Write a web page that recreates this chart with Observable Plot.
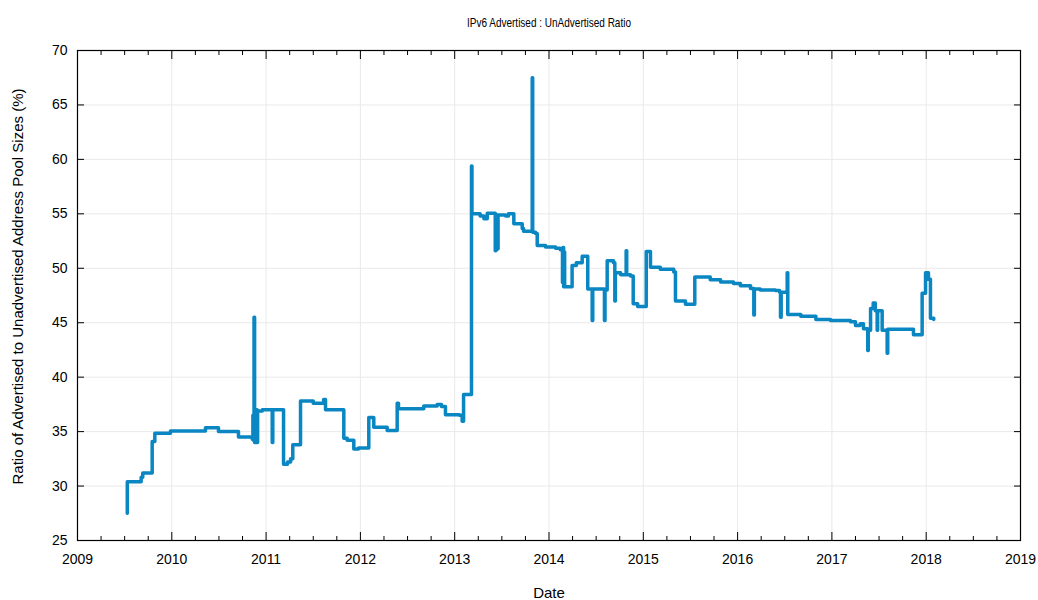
<!DOCTYPE html>
<html><head><meta charset="utf-8">
<script src="https://cdn.jsdelivr.net/npm/d3@7"></script>
<script src="https://cdn.jsdelivr.net/npm/@observablehq/plot@0.6"></script>
<style>body{margin:0;background:#fff;}</style>
</head><body><div id="chart"></div>
<script>
// decimal years (step-after: value holds from this date on)
const dates = [
  2009.527, 2009.528, 2009.675, 2009.692, 2009.792, 2009.820, 2009.986, 2010.357, 2010.495, 2010.707,
  2010.853, 2010.860, 2010.865, 2010.872, 2010.878, 2010.884, 2010.890, 2010.898, 2010.905, 2010.910,
  2010.960, 2011.065, 2011.071, 2011.185, 2011.227, 2011.260, 2011.283, 2011.365, 2011.500, 2011.610,
  2011.630, 2011.824, 2011.860, 2011.930, 2011.980, 2012.089, 2012.142, 2012.284, 2012.390, 2012.404,
  2012.672, 2012.814, 2012.860, 2012.902, 2013.050, 2013.079, 2013.094, 2013.178, 2013.183, 2013.270,
  2013.310, 2013.345, 2013.430, 2013.436, 2013.442, 2013.448, 2013.454, 2013.460, 2013.540, 2013.570,
  2013.627, 2013.716, 2013.730, 2013.822, 2013.827, 2013.857, 2013.875, 2013.963, 2014.070, 2014.120,
  2014.143, 2014.148, 2014.155, 2014.160, 2014.166, 2014.245, 2014.290, 2014.352, 2014.411, 2014.458,
  2014.464, 2014.588, 2014.594, 2014.617, 2014.684, 2014.698, 2014.704, 2014.760, 2014.818, 2014.824,
  2014.864, 2014.893, 2014.940, 2015.031, 2015.076, 2015.180, 2015.323, 2015.341, 2015.447, 2015.546,
  2015.710, 2015.820, 2015.956, 2016.030, 2016.137, 2016.172, 2016.178, 2016.240, 2016.400, 2016.445,
  2016.455, 2016.462, 2016.526, 2016.532, 2016.670, 2016.830, 2016.985, 2017.197, 2017.250, 2017.300,
  2017.335, 2017.380, 2017.386, 2017.410, 2017.438, 2017.460, 2017.480, 2017.485, 2017.533, 2017.586,
  2017.592, 2017.865, 2017.957, 2017.993, 2018.024, 2018.045, 2018.080
];
const ratios = [
  27.5, 30.4, 30.8, 31.2, 34.1, 34.85, 35.05, 35.35, 35.0, 34.5,
  34.3, 36.5, 34.2, 45.5, 34.0, 36.8, 34.0, 37.0, 34.0, 36.9,
  37.0, 34.0, 37.0, 32.0, 32.2, 32.5, 33.8, 37.8, 37.6, 37.95,
  37.0, 34.4, 34.2, 33.4, 33.5, 36.3, 35.4, 35.1, 37.6, 37.1,
  37.35, 37.5, 37.3, 36.55, 36.5, 35.95, 38.4, 59.4, 55.0, 54.8,
  54.55, 55.05, 51.6, 54.9, 51.7, 54.9, 51.8, 54.9, 54.8, 55.0,
  54.1, 53.65, 53.4, 67.5, 53.3, 53.2, 52.1, 51.95, 51.85, 51.7,
  48.7, 51.9, 48.3, 51.5, 48.3, 50.25, 50.5, 51.1, 48.1, 45.2,
  48.1, 45.2, 48.0, 50.7, 50.5, 47.0, 49.6, 49.4, 51.6, 49.4,
  49.3, 46.75, 46.5, 51.55, 50.1, 49.9, 49.65, 47.0, 46.7, 49.2,
  48.95, 48.75, 48.6, 48.4, 48.15, 45.7, 48.1, 48.0, 47.95, 47.8,
  45.5, 47.8, 49.6, 45.75, 45.6, 45.3, 45.2, 45.1, 44.75, 44.9,
  44.45, 42.45, 44.3, 46.3, 46.8, 46.1, 44.3, 46.1, 44.3, 42.2,
  44.4, 43.9, 47.7, 49.6, 49.0, 45.4, 45.3
];
const xTicks = [2009, 2010, 2011, 2012, 2013, 2014, 2015, 2016, 2017, 2018, 2019];
const yTicks = [25, 30, 35, 40, 45, 50, 55, 60, 65, 70];
const xMinorTicks = xTicks.slice(0, -1).flatMap(y => [y + 0.25, y + 0.5, y + 0.75]);
const titleText = "IPv6 Advertised : UnAdvertised Ratio";

const data = dates.map((d, i) => ({date: d, ratio: ratios[i]}));
const blank = () => "";

const chart = Plot.plot({
  width: 1038,
  height: 600,
  marginLeft: 77,
  marginRight: 18,
  marginTop: 50,
  marginBottom: 60,
  style: {fontFamily: "'Liberation Sans', Arial, sans-serif", fontSize: "14px", background: "#fff", color: "#000", overflow: "visible"},
  x: {domain: [2009, 2019]},
  y: {domain: [25, 70]},
  marks: [
    Plot.gridX(xTicks, {stroke: "#e9e9e9", strokeOpacity: 1}),
    Plot.gridY(yTicks, {stroke: "#e9e9e9", strokeOpacity: 1}),
    Plot.lineY(data, {x: "date", y: "ratio", curve: "step-after", stroke: "#0a86c2", strokeWidth: 3.5, strokeLinejoin: "round"}),
    Plot.frame({stroke: "#000", strokeWidth: 1.2}),
    Plot.axisX(xTicks, {anchor: "bottom", tickSize: -8, tickPadding: 22, tickFormat: d => String(d), fontSize: 14,
      label: null}),
    Plot.axisX(xMinorTicks, {anchor: "bottom", tickSize: -4, tickFormat: blank, label: null}),
    Plot.axisX(xTicks, {anchor: "top", tickSize: -8, tickFormat: blank, label: null}),
    Plot.axisX(xMinorTicks, {anchor: "top", tickSize: -4, tickFormat: blank, label: null}),
    Plot.axisY(yTicks, {anchor: "left", tickSize: -7, tickPadding: 17, tickFormat: d => String(d), fontSize: 14,
      label: null}),
    Plot.axisY(yTicks, {anchor: "right", tickSize: -7, tickFormat: blank, label: null}),
    Plot.text(["Date"], {frameAnchor: "bottom", dy: 57, fontSize: 15, fill: "#000"}),
    Plot.text(["Ratio of Advertised to Unadvertised Address Pool Sizes (%)"], {frameAnchor: "left", textAnchor: "middle",
      dx: -59, dy: -9, rotate: -90, fontSize: 15, fill: "#000"}),
    Plot.text([titleText], {frameAnchor: "top", dy: -33, fontSize: 13, fill: "#000", className: "chart-title"})
  ]
});
// condense the title like the reference's narrow face
d3.select(chart).selectAll("text").filter(function() { return this.textContent === titleText; })
  .attr("textLength", 164).attr("lengthAdjust", "spacingAndGlyphs");
document.getElementById("chart").append(chart);
</script>
</body></html>
